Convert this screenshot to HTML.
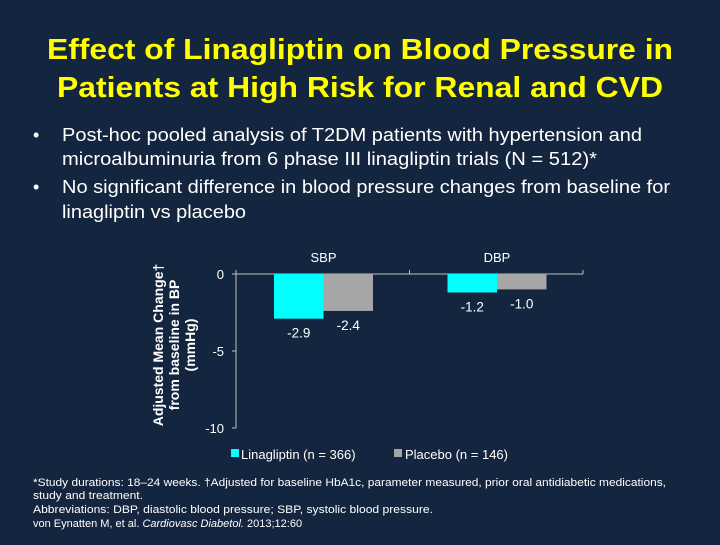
<!DOCTYPE html>
<html><head><meta charset="utf-8"><style>
html,body{margin:0;padding:0;background:#14253f;}
body{width:720px;height:540px;overflow:hidden;position:relative;font-family:"Liberation Sans",sans-serif;}
</style></head><body>
<svg width="720" height="540" viewBox="0 0 720 540" xmlns="http://www.w3.org/2000/svg" font-family="Liberation Sans, sans-serif">
<rect x="0" y="0" width="720" height="540" fill="#14253f"/>
<text x="47" y="59" textLength="626" lengthAdjust="spacingAndGlyphs" fill="#ffff00" font-size="29" font-weight="bold">Effect of Linagliptin on Blood Pressure in</text>
<text x="57" y="97" textLength="606" lengthAdjust="spacingAndGlyphs" fill="#ffff00" font-size="29" font-weight="bold">Patients at High Risk for Renal and CVD</text>
<g fill="#ffffff" font-size="18">
<text x="33" y="141">•</text>
<text x="62" y="141" textLength="580" lengthAdjust="spacingAndGlyphs">Post-hoc pooled analysis of T2DM patients with hypertension and</text>
<text x="62" y="165" textLength="535" lengthAdjust="spacingAndGlyphs">microalbuminuria from 6 phase III linagliptin trials (N = 512)*</text>
<text x="33" y="193">•</text>
<text x="62" y="193" textLength="608" lengthAdjust="spacingAndGlyphs">No significant difference in blood pressure changes from baseline for</text>
<text x="62" y="218" textLength="184" lengthAdjust="spacingAndGlyphs">linagliptin vs placebo</text>
</g>
<g id="chart"></g>
<g fill="#ffffff" font-size="11">
<text x="33" y="486" textLength="633" lengthAdjust="spacingAndGlyphs">*Study durations: 18–24 weeks. †Adjusted for baseline HbA1c, parameter measured, prior oral antidiabetic medications,</text>
<text x="33" y="499" textLength="110" lengthAdjust="spacingAndGlyphs">study and treatment.</text>
<text x="33" y="513" textLength="400" lengthAdjust="spacingAndGlyphs">Abbreviations: DBP, diastolic blood pressure; SBP, systolic blood pressure.</text>
<text x="33" y="527">von Eynatten M, et al. <tspan font-style="italic">Cardiovasc Diabetol.</tspan> 2013;12:60</text>
</g>
</svg>
<script>
const categories = ["SBP", "DBP"];
const linagliptin = [-2.9, -1.2];
const placebo = [-2.4, -1.0];
const valueLabels1 = ["-2.9", "-1.2"];
const valueLabels2 = ["-2.4", "-1.0"];
const yTicks = [0, -5, -10];
const yTickLabels = ["0", "-5", "-10"];

const NS = "http://www.w3.org/2000/svg";
const g = document.getElementById("chart");
const x0 = 236, x1 = 583, yTop = 274, yBot = 428;
const y = v => yTop + (0 - v) / 10 * (yBot - yTop);
const catW = (x1 - x0) / categories.length;
const barW = 49.5, off = 38;
function el(tag, attrs, txt) {
  const e = document.createElementNS(NS, tag);
  for (const k in attrs) e.setAttribute(k, attrs[k]);
  if (txt !== undefined) e.textContent = txt;
  g.appendChild(e);
  return e;
}
let a = el("line", {x1: x0, y1: y(0), x2: x0, y2: y(-10), stroke: "#bfbfbf", "stroke-width": 1});


a = el("line", {x1: x0, y1: y(0), x2: x1, y2: y(0), stroke: "#bfbfbf", "stroke-width": 1});


yTicks.forEach((t, i) => {
  const tk = el("line", {x1: x0 - 4, y1: y(t), x2: x0, y2: y(t), stroke: "#bfbfbf"});
  
  
  const lb = el("text", {x: x0 - 12, y: y(t) + 5, "text-anchor": "end", fill: "#fff", "font-size": 13}, yTickLabels[i]);
  
  
});
for (let i = 0; i <= categories.length; i++) {
  const tk = el("line", {x1: x0 + i * catW, y1: y(0), x2: x0 + i * catW, y2: y(0) - 4, stroke: "#bfbfbf"});
  
  
}
categories.forEach((c, i) => {
  const cx = x0 + i * catW;
  const lb = el("text", {x: cx + off + barW, y: 262, "text-anchor": "middle", fill: "#fff", "font-size": 13}, c);
  
  
  const b1 = el("rect", {x: cx + off, y: y(0), width: barW, height: y(linagliptin[i]) - y(0), fill: "#00ffff"});
  
  
  const b2 = el("rect", {x: cx + off + barW, y: y(0), width: barW, height: y(placebo[i]) - y(0), fill: "#a6a6a6"});
  
  
  const v1 = el("text", {x: cx + off + barW / 2, y: y(linagliptin[i]) + 19, "text-anchor": "middle", fill: "#fff", "font-size": 13.5}, valueLabels1[i]);
  
  
  const v2 = el("text", {x: cx + off + barW * 1.5, y: y(placebo[i]) + 19, "text-anchor": "middle", fill: "#fff", "font-size": 13.5}, valueLabels2[i]);
  
  
});
const yt = el("text", {transform: "translate(179,345) rotate(-90)", "text-anchor": "middle", fill: "#fff", "font-size": 14, "font-weight": "bold"});


[["Adjusted Mean Change†", -16], ["from baseline in BP", 0], ["(mmHg)", 16]].forEach(([t, dy]) => {
  const ts = document.createElementNS(NS, "tspan");
  ts.setAttribute("x", 0); ts.setAttribute("y", dy);
  ts.textContent = t; yt.appendChild(ts);
});
const l1 = el("rect", {x: 231, y: 449, width: 8, height: 8, fill: "#00ffff"});


const l1t = el("text", {x: 241, y: 459, fill: "#fff", "font-size": 13}, "Linagliptin (n = 366)");


const l2 = el("rect", {x: 394, y: 449, width: 8, height: 8, fill: "#a6a6a6"});


const l2t = el("text", {x: 396 + 9, y: 459, fill: "#fff", "font-size": 13}, "Placebo (n = 146)");


</script>
</body></html>
